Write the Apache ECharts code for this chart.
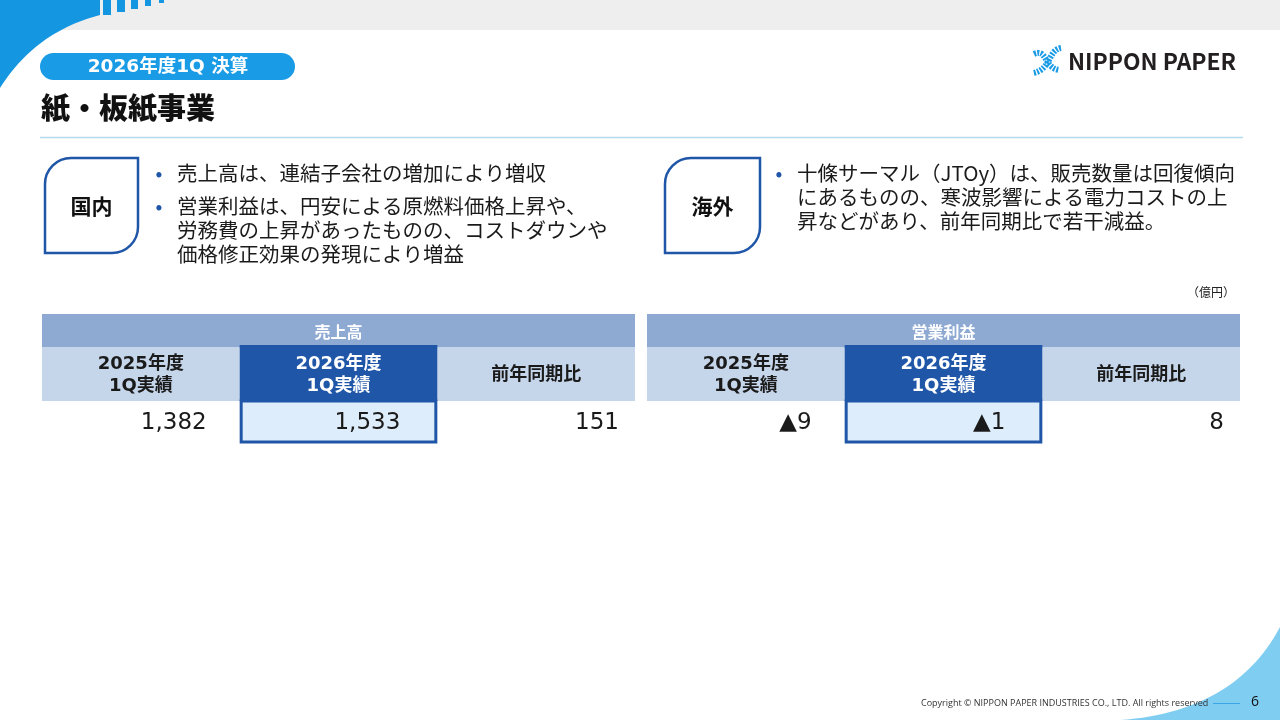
<!DOCTYPE html>
<html><head><meta charset="utf-8">
<script src="https://cdn.jsdelivr.net/npm/echarts@6/dist/echarts.min.js"></script>
<style>html,body{margin:0;padding:0;background:#fff}#c{width:1280px;height:720px}</style>
</head><body><div id="c"></div>
<script>
// ---- data ----
const pageTag = '2026年度1Q 決算';
const pageTitle = '紙・板紙事業';
const domesticLabel = '国内';
const domesticBullets = [
  ['売上高は、連結子会社の増加により増収'],
  ['営業利益は、円安による原燃料価格上昇や、', '労務費の上昇があったものの、コストダウンや', '価格修正効果の発現により増益']
];
const overseasLabel = '海外';
const overseasBullets = [
  ['十條サーマル（JTOy）は、販売数量は回復傾向', 'にあるものの、寒波影響による電力コストの上', '昇などがあり、前年同期比で若干減益。']
];
const unitLabel = '（億円）';
const columnLabels = ['2025年度\n1Q実績', '2026年度\n1Q実績', '前年同期比'];
const salesTitle = '売上高';
const salesValues = [1382, 1533, 151];
const profitTitle = '営業利益';
const profitValues = [-9, -1, 8];
const highlightColumn = 1;
const footerText = 'Copyright © NIPPON PAPER INDUSTRIES CO., LTD. All rights reserved';
const pageNumber = '6';

// ---- style ----
const FONT = '"Noto Sans CJK JP", "Noto Sans", sans-serif';
const LFONT = '"DejaVu Sans", "Noto Sans CJK JP", sans-serif';
const C_HEAD = '#8eaad3', C_SUB = '#c5d5ea', C_DARK = '#1f56a8', C_CELL = '#deedfb';
const ROW_H = [33, 54, 42];
const VAL_PAD = [33, 37, 16];

function fmt(v) {
  const s = Math.abs(v).toLocaleString('en-US');
  return v < 0 ? '▲' + s : s;
}

function quadPts(p0, c, p1, n) {
  const pts = [];
  for (let i = 0; i <= n; i++) {
    const t = i / n, u = 1 - t;
    pts.push([u * u * p0[0] + 2 * u * t * c[0] + t * t * p1[0], u * u * p0[1] + 2 * u * t * c[1] + t * t * p1[1]]);
  }
  return pts;
}

function makeRender(title) {
  return function (params, api) {
    const col = api.value(0);
    const val = api.value(1);
    const cs = params.coordSys;
    const cx = api.coord([col, 0])[0];
    const w = api.size([1, 0])[0];
    const x0 = cx - w / 2;
    const top = cs.y;
    const subTop = top + ROW_H[0];
    const valTop = subTop + ROW_H[1];
    const hl = col === highlightColumn;
    const ch = [];
    if (col === 0) {
      ch.push({ type: 'rect', shape: { x: cs.x, y: top, width: cs.width, height: ROW_H[0] + 1 }, style: { fill: C_HEAD } });
      ch.push({ type: 'text', z2: 5, style: { text: title, x: cs.x + cs.width / 2, y: top + ROW_H[0] / 2 + 1, align: 'center', verticalAlign: 'middle', fill: '#fff', font: 'bold 16px ' + FONT } });
    }
    if (hl) {
      ch.push({ type: 'rect', z2: 3, shape: { x: x0, y: subTop - 2, width: w, height: ROW_H[1] + 2 }, style: { fill: C_DARK } });
      ch.push({ type: 'rect', z2: 3, shape: { x: x0 + 1.5, y: valTop, width: w - 3, height: ROW_H[2] - 1 }, style: { fill: C_CELL, stroke: C_DARK, lineWidth: 3 } });
    } else {
      ch.push({ type: 'rect', z2: 2, shape: { x: x0, y: subTop, width: w, height: ROW_H[1] }, style: { fill: C_SUB } });
    }
    ch.push({ type: 'text', z2: 6, style: { text: columnLabels[col], x: cx, y: subTop + ROW_H[1] / 2 + 1, align: 'center', verticalAlign: 'middle', lineHeight: 22, fill: hl ? '#fff' : '#1a1a1a', font: 'bold 18px ' + LFONT } });
    ch.push({ type: 'text', z2: 6, style: { text: fmt(val), x: x0 + w - VAL_PAD[col], y: valTop + ROW_H[2] / 2 + 1, align: 'right', verticalAlign: 'middle', fill: '#1a1a1a', font: '23px ' + LFONT } });
    return { type: 'group', children: ch };
  };
}

function bulletGraphics(groups, bx, tx, y0, lh, gap) {
  const out = [];
  let y = y0;
  groups.forEach(lines => {
    out.push({ type: 'text', style: { text: '•', x: bx, y: y, align: 'center', verticalAlign: 'middle', fill: '#1f56a8', font: 'bold 18px ' + FONT } });
    lines.forEach(t => {
      out.push({ type: 'text', style: { text: t, x: tx, y: y, verticalAlign: 'middle', fill: '#1a1a1a', font: '20.5px ' + FONT } });
      y += lh;
    });
    y += gap;
  });
  return out;
}

const stripes = [[103, 8, 15], [117, 8, 12], [131, 7, 9], [145, 6, 6], [159, 5, 3]].map(s => ({
  type: 'rect', shape: { x: s[0], y: 0, width: s[1], height: s[2] }, style: { fill: '#1496e0' }
}));

const tlShape = [[0, 0], [100, 0]].concat(quadPts([100, 15], [35, 32], [0, 88], 30));
const brShape = quadPts([1280, 627], [1235, 712], [1120, 720], 30).concat([[1280, 720]]);
const iconStroke = { stroke: '#1a9be6', lineWidth: 6, fill: null, lineDash: [2, 1.3] };

const graphics = [
  { type: 'rect', shape: { x: 0, y: 0, width: 1280, height: 30 }, style: { fill: '#eeeeee' } },
  { type: 'polygon', shape: { points: tlShape }, style: { fill: '#1496e0' } },
  ...stripes,
  { type: 'polygon', shape: { points: brShape }, style: { fill: '#80cdf2' } },
  { type: 'rect', shape: { x: 40, y: 53, width: 255, height: 27, r: 13.5 }, style: { fill: '#1a9be6' } },
  { type: 'text', style: { text: pageTag, x: 168, y: 67, align: 'center', verticalAlign: 'middle', fill: '#fff', font: 'bold 18.5px ' + LFONT } },
  { type: 'text', style: { text: pageTitle, x: 41, y: 108, verticalAlign: 'middle', fill: '#111', font: '900 29px ' + FONT } },
  { type: 'line', shape: { x1: 40, y1: 137.5, x2: 1243, y2: 137.5 }, style: { stroke: '#b3dcec', lineWidth: 1.5 } },
  // logo
  { type: 'bezierCurve', shape: { x1: 1034, y1: 54, cpx1: 1047, cpy1: 48, cpx2: 1044, cpy2: 68, x2: 1059, y2: 70 }, style: iconStroke },
  { type: 'bezierCurve', shape: { x1: 1061, y1: 48, cpx1: 1048, cpy1: 50, cpx2: 1051, cpy2: 70, x2: 1033, y2: 73 }, style: iconStroke },
  { type: 'text', style: { text: 'NIPPON PAPER', x: 1068, y: 61, verticalAlign: 'middle', fill: '#231f20', font: 'bold 22.8px ' + FONT } },
  // boxes
  { type: 'rect', shape: { x: 45, y: 158, width: 93, height: 95, r: [26, 0, 26, 0] }, style: { fill: '#fff', stroke: '#1f56a8', lineWidth: 2.5 } },
  { type: 'text', style: { text: domesticLabel, x: 91.5, y: 206, align: 'center', verticalAlign: 'middle', fill: '#111', font: 'bold 21px ' + FONT } },
  { type: 'rect', shape: { x: 665, y: 158, width: 95, height: 95, r: [26, 0, 26, 0] }, style: { fill: '#fff', stroke: '#1f56a8', lineWidth: 2.5 } },
  { type: 'text', style: { text: overseasLabel, x: 712.5, y: 206, align: 'center', verticalAlign: 'middle', fill: '#111', font: 'bold 21px ' + FONT } },
  ...bulletGraphics(domesticBullets, 159, 177, 173, 24, 9),
  ...bulletGraphics(overseasBullets, 779, 797, 173, 24, 9),
  { type: 'text', style: { text: unitLabel, x: 1235, y: 292, align: 'right', verticalAlign: 'middle', fill: '#222', font: '12px ' + FONT } },
  // footer
  { type: 'text', style: { text: footerText, x: 921, y: 703, verticalAlign: 'middle', fill: '#333', font: '9px "Open Sans", ' + FONT } },
  { type: 'line', shape: { x1: 1213, y1: 703.5, x2: 1240, y2: 703.5 }, style: { stroke: '#3aa6e6', lineWidth: 1 } },
  { type: 'text', style: { text: pageNumber, x: 1255, y: 702, align: 'center', verticalAlign: 'middle', fill: '#111', font: '14px "Open Sans", ' + FONT } }
];

const chart = echarts.init(document.getElementById('c'), null, { renderer: 'canvas' });
const axisOff = { show: false };
chart.setOption({
  backgroundColor: '#fff',
  animation: false,
  grid: [
    { left: 42, top: 314, width: 593, height: 129 },
    { left: 647, top: 314, width: 593, height: 129 }
  ],
  xAxis: [
    { type: 'category', gridIndex: 0, data: columnLabels, ...axisOff },
    { type: 'category', gridIndex: 1, data: columnLabels, ...axisOff }
  ],
  yAxis: [
    { type: 'value', gridIndex: 0, min: 0, max: 1, ...axisOff },
    { type: 'value', gridIndex: 1, min: 0, max: 1, ...axisOff }
  ],
  series: [
    { type: 'custom', name: salesTitle, xAxisIndex: 0, yAxisIndex: 0, renderItem: makeRender(salesTitle),
      data: salesValues.map((v, i) => [i, v]), encode: { x: 0 } },
    { type: 'custom', name: profitTitle, xAxisIndex: 1, yAxisIndex: 1, renderItem: makeRender(profitTitle),
      data: profitValues.map((v, i) => [i, v]), encode: { x: 0 } }
  ],
  graphic: graphics
});
</script></body></html>
